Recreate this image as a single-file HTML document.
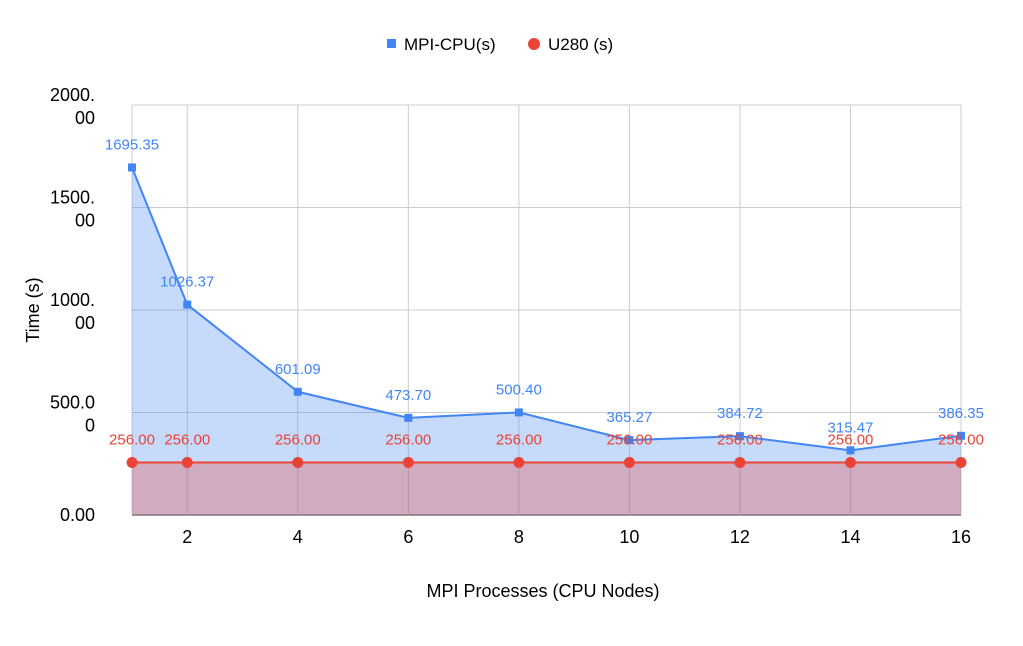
<!DOCTYPE html>
<html><head><meta charset="utf-8"><style>
body{margin:0;background:#fff;font-family:"Liberation Sans",Roboto,sans-serif}
svg text{font-family:"Liberation Sans",sans-serif}
</style></head><body>
<svg id="chart" width="1023" height="641" xmlns="http://www.w3.org/2000/svg">
<rect width="1023" height="641" fill="#fff"/>
<g id="grid"></g>
<g id="areas"></g>
<g id="lines"></g>
<g id="ticks"></g>
<g id="labels"></g>
<g>
 <rect x="387" y="39" width="9" height="9" fill="#4285f4"/>
 <text x="404" y="50" font-size="17" fill="#000">MPI-CPU(s)</text>
 <circle cx="534" cy="44" r="6" fill="#ea4335"/>
 <text x="548" y="50" font-size="17" fill="#000">U280 (s)</text>
</g>
<text transform="translate(39,310) rotate(-90)" text-anchor="middle" font-size="18" fill="#000">Time (s)</text>
<text x="543" y="597" text-anchor="middle" font-size="18" fill="#000">MPI Processes (CPU Nodes)</text>
</svg>
<script>
const categories=[1,2,4,6,8,10,12,14,16];
const mpiCpu=[1695.35,1026.37,601.09,473.70,500.40,365.27,384.72,315.47,386.35];
const u280=[256,256,256,256,256,256,256,256,256];
const xTicks=[2,4,6,8,10,12,14,16];
const yTicks=[0,500,1000,1500,2000];
const yTickLines=[["0.00"],["500.0","0"],["1000.","00"],["1500.","00"],["2000.","00"]];
const NS="http://www.w3.org/2000/svg";
const X0=132,X1=961,Y0=515,Y1=105;
const xs=v=>X0+(v-1)/(16-1)*(X1-X0);
const ys=v=>Y0-v/2000*(Y0-Y1);
function mk(tag,attrs,parent){const e=document.createElementNS(NS,tag);for(const k in attrs)e.setAttribute(k,attrs[k]);document.getElementById(parent).appendChild(e);return e;}
yTicks.forEach((t,i)=>{
 const l=mk('line',{x1:X0,x2:X1,y1:ys(t),y2:ys(t),stroke:t===0?'#333':'#ccc','stroke-width':1},'grid');
 
 
 const tx=mk('text',{x:95,y:ys(t)+(yTickLines[i].length>1?-4:6),'text-anchor':'end','font-size':18,fill:'#000'},'ticks');
 
 
 yTickLines[i].forEach((s,j)=>{const ts=document.createElementNS(NS,'tspan');ts.setAttribute('x',95);if(j>0)ts.setAttribute('dy',23);ts.textContent=s;tx.appendChild(ts);});
});
[1].concat(xTicks).forEach(t=>{
 const l=mk('line',{x1:xs(t),x2:xs(t),y1:Y1,y2:Y0,stroke:'#ccc','stroke-width':1},'grid');
 
 
});
xTicks.forEach(t=>{
 const tx=mk('text',{x:xs(t),y:543,'text-anchor':'middle','font-size':18,fill:'#000'},'ticks');
 
 
 tx.textContent=t;
});
function pts(arr){return categories.map((c,i)=>xs(c)+','+ys(arr[i])).join(' ');}
const a1=mk('polygon',{points:xs(1)+','+Y0+' '+pts(mpiCpu)+' '+xs(16)+','+Y0,fill:'#4285f4','fill-opacity':0.3},'areas');


const a2=mk('polygon',{points:xs(1)+','+Y0+' '+pts(u280)+' '+xs(16)+','+Y0,fill:'#ea4335','fill-opacity':0.3},'areas');


const l1=mk('polyline',{points:pts(mpiCpu),fill:'none',stroke:'#4285f4','stroke-width':2},'lines');


const l2=mk('polyline',{points:pts(u280),fill:'none',stroke:'#ea4335','stroke-width':2},'lines');


categories.forEach((c,i)=>{
 const m=mk('rect',{x:xs(c)-4,y:ys(mpiCpu[i])-4,width:8,height:8,fill:'#4285f4'},'lines');
 
 
 const p=mk('circle',{cx:xs(c),cy:ys(u280[i]),r:5.5,fill:'#ea4335'},'lines');
 
 
 const t1=mk('text',{x:xs(c),y:ys(mpiCpu[i])-18,'text-anchor':'middle','font-size':15,fill:'#4285f4'},'labels');
 
 
 t1.textContent=mpiCpu[i].toFixed(2);
 const t2=mk('text',{x:xs(c),y:ys(u280[i])-18,'text-anchor':'middle','font-size':15,fill:'#ea4335'},'labels');
 
 
 t2.textContent=u280[i].toFixed(2);
});
</script>
</body></html>
